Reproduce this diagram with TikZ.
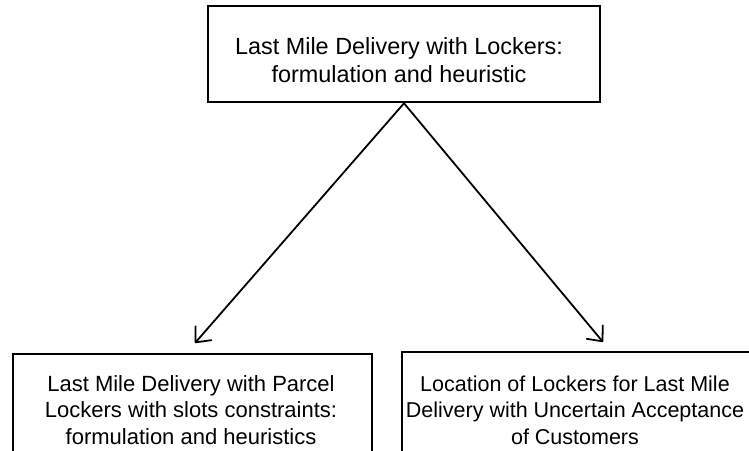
\documentclass[tikz,border=0pt]{standalone}
\usepackage{fontspec}
\setmainfont{Liberation Sans}
\usetikzlibrary{arrows.meta}
\begin{document}
\begin{tikzpicture}[x=1pt,y=-1pt,
  box/.style={draw, line width=2.5pt, rectangle, inner sep=0pt},
  txt/.style={align=center, font=\fontsize{22}{26.5}\selectfont, inner sep=0pt},
  conn/.style={line width=1.8pt, line cap=round, -{Straight Barb[length=12pt,width=21pt,line width=1.8pt,round]}}]
\path[use as bounding box] (0,0) rectangle (749,450);
\clip (0,0) rectangle (749,450);
\fill[white] (0,0) rectangle (749,450);
% boxes
\node[box, minimum width=392pt, minimum height=96pt] (top) at (404,54) {};
\node[box, minimum width=359pt, minimum height=116pt] (left) at (192.5,412) {};
\node[box, minimum width=378pt, minimum height=128pt] (right) at (591,416) {};
% texts
\node[txt, font=\fontsize{23.4}{28}\selectfont] (toptxt) at (399,60) {Last Mile Delivery with Lockers:\\formulation and heuristic};
\node[txt] (lefttxt) at (191,410) {Last Mile Delivery with Parcel\\Lockers with slots constraints:\\formulation and heuristics};
\node[txt, font=\fontsize{21.5}{26.5}\selectfont] (righttxt) at (575,410) {Location of Lockers for Last Mile\\Delivery with Uncertain Acceptance\\of Customers};
% connectors
\coordinate (tipL) at (195,343);
\coordinate (tipR) at (603,342);
\draw[conn] (top.south) -- (tipL);
\draw[conn] (top.south) -- (tipR);
\end{tikzpicture}
\end{document}
